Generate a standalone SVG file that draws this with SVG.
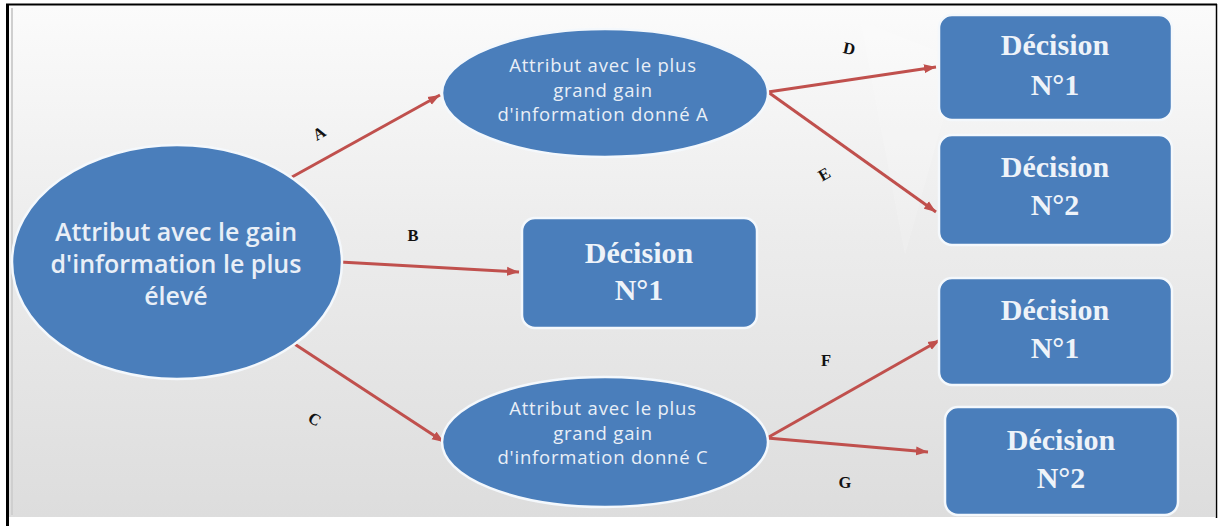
<svg xmlns="http://www.w3.org/2000/svg" width="1219" height="526" viewBox="0 0 1219 526">
  <defs>
    <linearGradient id="bg" x1="0" y1="0" x2="0" y2="1">
      <stop offset="0" stop-color="#fbfbfb"/>
      <stop offset="0.45" stop-color="#ececec"/>
      <stop offset="1" stop-color="#dddddd"/>
    </linearGradient>
    <marker id="head" markerUnits="userSpaceOnUse" markerWidth="12" markerHeight="10" refX="12" refY="5" orient="auto">
      <path d="M0,0.5 L12,5 L0,9.5 z" fill="#c0504d"/>
    </marker>
    <style>
      .node { fill: #4a7ebb; stroke: #f4f8fc; stroke-width: 2.5; }
      .ell-big { font-family: "Open Sans", "DejaVu Sans", sans-serif; font-size: 25px; font-weight: 600; fill: #e9eff7; text-anchor: middle; }
      .ell-small { font-family: "Open Sans", "DejaVu Sans", sans-serif; font-size: 18.5px; letter-spacing: 0.8px; fill: #e9eff7; text-anchor: middle; }
      .dec { font-family: "Liberation Serif", "Times New Roman", serif; font-size: 30px; font-weight: bold; fill: #eef3f9; text-anchor: middle; }
      .edge { fill: none; stroke: #c0504d; stroke-width: 3; marker-end: url(#head); }
      .lbl { font-family: "Liberation Serif", "Times New Roman", serif; font-size: 16.5px; font-weight: bold; fill: #111; text-anchor: middle; }
    </style>
  </defs>

  <!-- page and frame -->
  <rect x="0" y="0" width="1219" height="526" fill="#ffffff"/>
  <rect x="9" y="6" width="1206" height="511" fill="url(#bg)"/>
  <path d="M860,20 L960,60 L905,255 Z" fill="#ffffff" opacity="0.15"/>
  <line x1="12" y1="8" x2="12" y2="515" stroke="#cfcfcf" stroke-width="2"/>
  <line x1="6" y1="4.5" x2="1217" y2="4.5" stroke="#000" stroke-width="2"/>
  <line x1="7.5" y1="4" x2="7.5" y2="526" stroke="#000" stroke-width="3"/>
  <line x1="1216.5" y1="4" x2="1216.5" y2="518" stroke="#000" stroke-width="1.5"/>

  <!-- connectors -->
  <g id="connectors">
    <path class="edge" d="M292,177 L440,95"/>
    <path class="edge" d="M340,262 L519,272"/>
    <path class="edge" d="M293,343 L444,442"/>
    <path class="edge" d="M768,92 L936,67"/>
    <path class="edge" d="M768,92 L936,212"/>
    <path class="edge" d="M767,438 L940,340"/>
    <path class="edge" d="M767,438 L928,452"/>
    <text class="lbl" transform="translate(322,138) rotate(-30)">A</text>
    <text class="lbl" x="413" y="241">B</text>
    <text class="lbl" transform="translate(312,424) rotate(30)">C</text>
    <text class="lbl" transform="translate(848,54) rotate(12)">D</text>
    <text class="lbl" transform="translate(827,179) rotate(-30)">E</text>
    <text class="lbl" x="826" y="366">F</text>
    <text class="lbl" x="845" y="488">G</text>
  </g>

  <!-- root attribute -->
  <g id="root">
    <ellipse class="node" cx="177" cy="262" rx="165" ry="117"/>
    <text class="ell-big" x="176" y="241">Attribut avec le gain</text>
    <text class="ell-big" x="176" y="273">d'information le plus</text>
    <text class="ell-big" x="176" y="305">élevé</text>
  </g>

  <!-- attribute given A -->
  <g id="attr-a">
    <ellipse class="node" cx="605" cy="93" rx="163" ry="64"/>
    <text class="ell-small" x="603" y="72">Attribut avec le plus</text>
    <text class="ell-small" x="603" y="97">grand gain</text>
    <text class="ell-small" x="603" y="121">d'information donné A</text>
  </g>

  <!-- attribute given C -->
  <g id="attr-c">
    <ellipse class="node" cx="605" cy="442" rx="163" ry="65"/>
    <text class="ell-small" x="603" y="415">Attribut avec le plus</text>
    <text class="ell-small" x="603" y="440">grand gain</text>
    <text class="ell-small" x="603" y="464">d'information donné C</text>
  </g>

  <!-- decision for B -->
  <g id="dec-b">
    <rect class="node" x="522" y="218" width="235" height="110" rx="13"/>
    <text class="dec" x="639" y="263">Décision</text>
    <text class="dec" x="639" y="300">N°1</text>
  </g>

  <!-- decisions under A -->
  <g id="dec-d">
    <rect class="node" x="939" y="15" width="233" height="105" rx="13"/>
    <text class="dec" x="1055" y="55">Décision</text>
    <text class="dec" x="1055" y="95">N°1</text>
  </g>
  <g id="dec-e">
    <rect class="node" x="939" y="135" width="233" height="110" rx="13"/>
    <text class="dec" x="1055" y="177">Décision</text>
    <text class="dec" x="1055" y="215">N°2</text>
  </g>

  <!-- decisions under C -->
  <g id="dec-f">
    <rect class="node" x="939" y="278" width="233" height="107" rx="13"/>
    <text class="dec" x="1055" y="320">Décision</text>
    <text class="dec" x="1055" y="358">N°1</text>
  </g>
  <g id="dec-g">
    <rect class="node" x="945" y="407" width="233" height="108" rx="13"/>
    <text class="dec" x="1061" y="450">Décision</text>
    <text class="dec" x="1061" y="488">N°2</text>
  </g>
</svg>
